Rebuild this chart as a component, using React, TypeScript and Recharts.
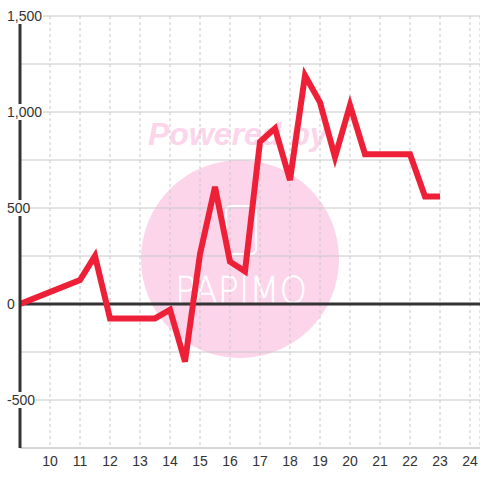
import React from "react";
import {
  LineChart,
  Line,
  XAxis,
  YAxis,
  CartesianGrid,
  ReferenceLine,
} from "recharts";

// data
const hours = [9, 11, 11.5, 12, 13, 13.5, 14, 14.5, 15, 15.5, 16, 16.5, 17, 17.5, 18, 18.5, 19, 19.5, 20, 20.5, 21, 22, 22.5, 23];
const values = [0, 125, 250, -75, -75, -75, -30, -300, 260, 610, 220, 170, 845, 915, 645, 1190, 1050, 765, 1035, 780, 780, 780, 560, 560];
const xTicks = [10, 11, 12, 13, 14, 15, 16, 17, 18, 19, 20, 21, 22, 23, 24];
const yTicks = [-750, -500, -250, 0, 250, 500, 750, 1000, 1250, 1500];

const chartData = hours.map((h, i) => ({ x: h, v: values[i] }));

const TEXT = "#333333";
const GRID = "#c8c8c8";
const LINE = "#ee2038";
const PINK = "#fcd5ea";

const YTick = (props: any) => {
  const { y, payload } = props;
  if (payload.value % 500 !== 0) return null;
  const label = payload.value.toLocaleString("en-US");
  const w = label.length * 7.4;
  return (
    <g>
      <rect x={6} y={y - 8} width={w} height={16} fill="#ffffff" />
      <text x={7} y={y} dy={5} fontSize={14} fill={TEXT} fontFamily="Liberation Sans, Arial, sans-serif">
        {label}
      </text>
    </g>
  );
};

// "Powered by" logo behind the plot
const Watermark = () => (
  <svg width={480} height={480} style={{ position: "absolute", left: 0, top: 0 }}>
    <circle cx={240} cy={259} r={99} fill={PINK} />
    <text
      x={148}
      y={145}
      fontSize={32}
      fontWeight="bold"
      fontStyle="italic"
      fill={PINK}
      fontFamily="Liberation Sans, Arial, sans-serif"
    >
      Powered by
    </text>
    <rect x={226} y={206} width={30} height={48} rx={5} fill="none" stroke="#ffffff" strokeWidth={2} />
    <text
      x={175}
      y={303}
      fontSize={38}
      fill="#ffffff"
      stroke="#ffffff"
      strokeWidth={0.3}
      textLength={132}
      lengthAdjust="spacingAndGlyphs"
      fontFamily="DejaVu Sans, sans-serif"
      fontWeight={300}
    >
      PAPIMO
    </text>
  </svg>
);

export default function App() {
  return (
    <div style={{ position: "absolute", left: 0, top: 0, width: 480, height: 480, background: "#ffffff" }}>
      <Watermark />
      <div style={{ position: "absolute", left: 0, top: 0 }}>
        <LineChart width={480} height={480} data={chartData} margin={{ top: 16, right: 0, left: 0, bottom: 0 }}>
          <CartesianGrid vertical={false} stroke={GRID} />
          <CartesianGrid horizontal={false} stroke={GRID} strokeDasharray="3 3" />
          <XAxis
            dataKey="x"
            type="number"
            domain={[9, 24 + 1 / 3]}
            ticks={xTicks}
            interval={0}
            height={32}
            tickLine={false}
            tickSize={0}
            tickMargin={8}
            axisLine={{ stroke: GRID }}
            tick={{ fontSize: 14, fill: TEXT, fontFamily: "Liberation Sans, Arial, sans-serif" }}
            allowDataOverflow
          />
          <YAxis
            type="number"
            width={20}
            domain={[-750, 1500]}
            ticks={yTicks}
            interval={0}
            tickLine={false}
            axisLine={{ stroke: TEXT, strokeWidth: 3 }}
            tick={<YTick />}
            allowDataOverflow
          />
          <ReferenceLine y={0} stroke={TEXT} strokeWidth={3} />
          <Line
            type="linear"
            dataKey="v"
            stroke={LINE}
            strokeWidth={6}
            strokeLinejoin="miter"
            dot={false}
            activeDot={false}
            isAnimationActive={false}
          />
        </LineChart>
      </div>
    </div>
  );
}
